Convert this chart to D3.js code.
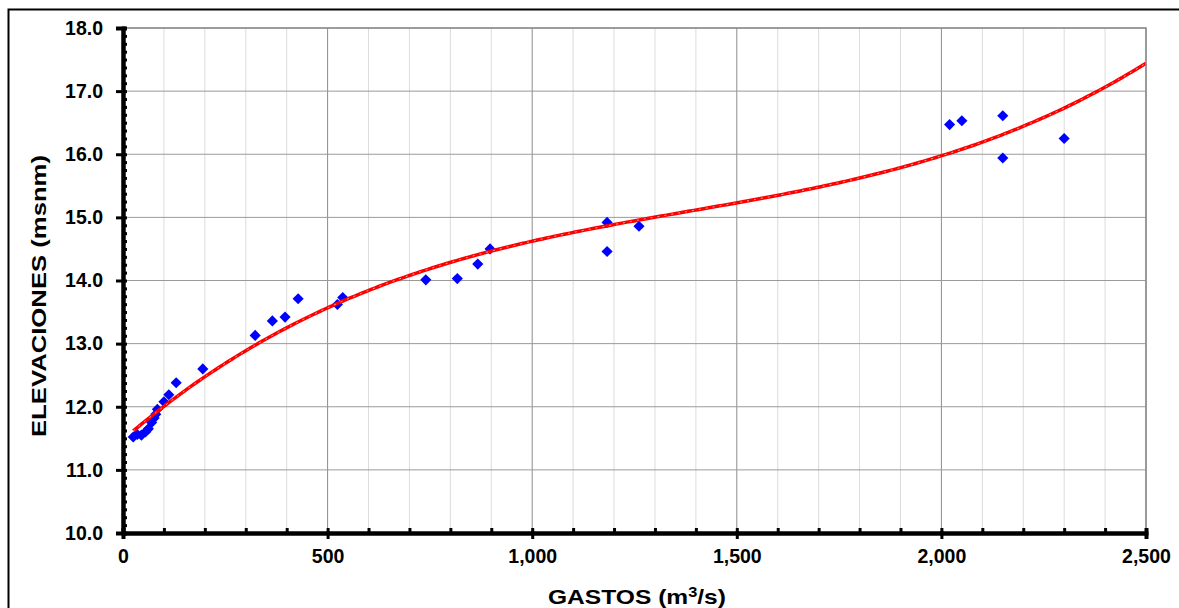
<!DOCTYPE html>
<html>
<head>
<meta charset="utf-8">
<script src="https://cdn.jsdelivr.net/npm/d3@7"></script>
<style>
  body { margin: 0; background: #fff; }
  text { font-family: "Liberation Sans", Arial, sans-serif; font-weight: bold; fill: #000; }
</style>
</head>
<body>
<div id="chart"></div>
<script>
// datos
const gastos = [25, 35, 45, 55, 62, 70, 76, 80, 84, 100, 112, 130, 195, 323, 365, 396, 428, 524, 537,
  740, 817, 867, 897, 1183, 1183, 1261, 2020, 2050, 2150, 2150, 2300];
const elevaciones = [11.52, 11.56, 11.55, 11.60, 11.65, 11.75, 11.82, 11.88, 11.96, 12.08, 12.19, 12.38, 12.60,
  13.13, 13.36, 13.42, 13.71, 13.62, 13.73, 14.01, 14.03, 14.26, 14.50, 14.92, 14.46, 14.86,
  16.47, 16.53, 16.61, 15.94, 16.25];
const xTicks = [0, 500, 1000, 1500, 2000, 2500];
const yTicks = [10, 11, 12, 13, 14, 15, 16, 17, 18];

const W = 1179, H = 608;
const margin = { top: 28, right: 33, bottom: 75, left: 123 };
const width = W - margin.left - margin.right;
const height = H - margin.top - margin.bottom;

const svg = d3.select("#chart").append("svg")
  .attr("width", W).attr("height", H);

// marco exterior
svg.append("rect")
  .attr("x", 8.5).attr("y", 9.5)
  .attr("width", W + 10).attr("height", H + 10)
  .attr("fill", "none").attr("stroke", "#000").attr("stroke-width", 2);

const chart = svg.append("g").attr("transform", `translate(${margin.left},${margin.top})`);

const x = d3.scaleLinear().domain([0, 2500]).range([0, width]);
const y = d3.scaleLinear().domain([10, 18]).range([height, 0]);

//------ rejilla
const minorX = d3.range(100, 2500, 100).filter(v => v % 500 !== 0);
chart.append("g").selectAll("line").data(minorX).join("line")
  .attr("x1", d => x(d)).attr("x2", d => x(d))
  .attr("y1", 0).attr("y2", height)
  .attr("stroke", "#dcdcdc").attr("stroke-width", 1);
chart.append("g").selectAll("line").data(xTicks.slice(1)).join("line")
  .attr("x1", d => x(d)).attr("x2", d => x(d))
  .attr("y1", 0).attr("y2", height)
  .attr("stroke", "#8c8c8c").attr("stroke-width", 1);
chart.append("g").selectAll("line").data(yTicks.slice(1)).join("line")
  .attr("x1", 0).attr("x2", width)
  .attr("y1", d => y(d)).attr("y2", d => y(d))
  .attr("stroke", "#9a9a9a").attr("stroke-width", 1);

//------ puntos medidos
const diamond = d3.symbol().type(d3.symbolSquare).size(62);
chart.append("g").selectAll("path").data(gastos).join("path")
  .attr("d", diamond)
  .attr("transform", (d, i) => `translate(${x(d)},${y(elevaciones[i])}) rotate(45)`)
  .attr("fill", "#0000ff");

//------ linea de tendencia: ajuste polinomial de grado 3 por minimos cuadrados
function polyFit(xs, ys, deg) {
  const n = deg + 1;
  const A = Array.from({ length: n }, () => new Array(n + 1).fill(0));
  xs.forEach((xv, k) => {
    for (let i = 0; i < n; i++) {
      for (let j = 0; j < n; j++) A[i][j] += Math.pow(xv, i + j);
      A[i][n] += ys[k] * Math.pow(xv, i);
    }
  });
  for (let c = 0; c < n; c++) {
    let p = c;
    for (let r = c + 1; r < n; r++) if (Math.abs(A[r][c]) > Math.abs(A[p][c])) p = r;
    [A[c], A[p]] = [A[p], A[c]];
    for (let r = 0; r < n; r++) {
      if (r === c) continue;
      const f = A[r][c] / A[c][c];
      for (let k = c; k <= n; k++) A[r][k] -= f * A[c][k];
    }
  }
  return A.map((row, i) => row[n] / row[i]);
}
const coef = polyFit(gastos.map(g => g / 1000), elevaciones, 3);
const trend = q => coef.reduce((s, c, i) => s + c * Math.pow(q / 1000, i), 0);
const trendX = d3.range(d3.min(gastos), 2500, 10).concat([2500]);

const line = d3.line().x(d => x(d)).y(d => y(trend(d))).curve(d3.curveLinear);
chart.append("path").datum(trendX)
  .attr("d", line).attr("fill", "none")
  .attr("stroke", "#ff0000").attr("stroke-width", 3.5);
chart.append("path").datum(trendX)
  .attr("d", line).attr("fill", "none")
  .attr("stroke", "#ff9a9a").attr("stroke-width", 1)
  .attr("stroke-dasharray", "2,5");

//------ borde del area de trazado (arriba y derecha)
chart.append("path")
  .attr("d", `M0,0H${width}V${height}`)
  .attr("fill", "none").attr("stroke", "#8c8c8c").attr("stroke-width", 1.5);

//------ ejes
const yMinor = chart.append("g")
  .call(d3.axisLeft(y).tickValues(d3.range(10, 18.001, 0.125)).tickSize(-4).tickFormat(""));
const yAxis = chart.append("g")
  .call(d3.axisLeft(y).tickValues(yTicks).tickSize(7).tickPadding(13).tickFormat(d3.format(".1f")));

const xMinor = chart.append("g").attr("transform", `translate(0,${height})`)
  .call(d3.axisBottom(x).tickValues(d3.range(0, 2501, 100)).tickSize(-5).tickFormat(""));
const xAxis = chart.append("g").attr("transform", `translate(0,${height})`)
  .call(d3.axisBottom(x).tickValues(xTicks).tickSize(6).tickPadding(10).tickFormat(d3.format(",")));

[yMinor, yAxis, xMinor, xAxis].forEach(g => {
  g.select(".domain").attr("stroke", "#000").attr("stroke-width", 4);
  g.selectAll(".tick line").attr("stroke", "#000").attr("stroke-width", 3);
});
// marcas principales cruzando el eje
yAxis.selectAll(".tick line").attr("x2", -7).attr("x1", 2);
xAxis.selectAll(".tick line").attr("y1", -2).attr("y2", 6);
yAxis.selectAll(".tick text").style("font-size", "19.5px");
xAxis.selectAll(".tick text").style("font-size", "19.5px");

//------ titulos de los ejes
svg.append("text")
  .attr("x", 637).attr("y", 604)
  .attr("text-anchor", "middle").style("font-size", "21px")
  .attr("textLength", 178).attr("lengthAdjust", "spacingAndGlyphs")
  .html("GASTOS (m<tspan dy='-7' style='font-size:14px'>3</tspan><tspan dy='7'>/s)</tspan>");

svg.append("text")
  .attr("transform", "translate(46,296) rotate(-90)")
  .attr("text-anchor", "middle").style("font-size", "21px")
  .attr("textLength", 282).attr("lengthAdjust", "spacingAndGlyphs")
  .text("ELEVACIONES (msnm)");
</script>
</body>
</html>
